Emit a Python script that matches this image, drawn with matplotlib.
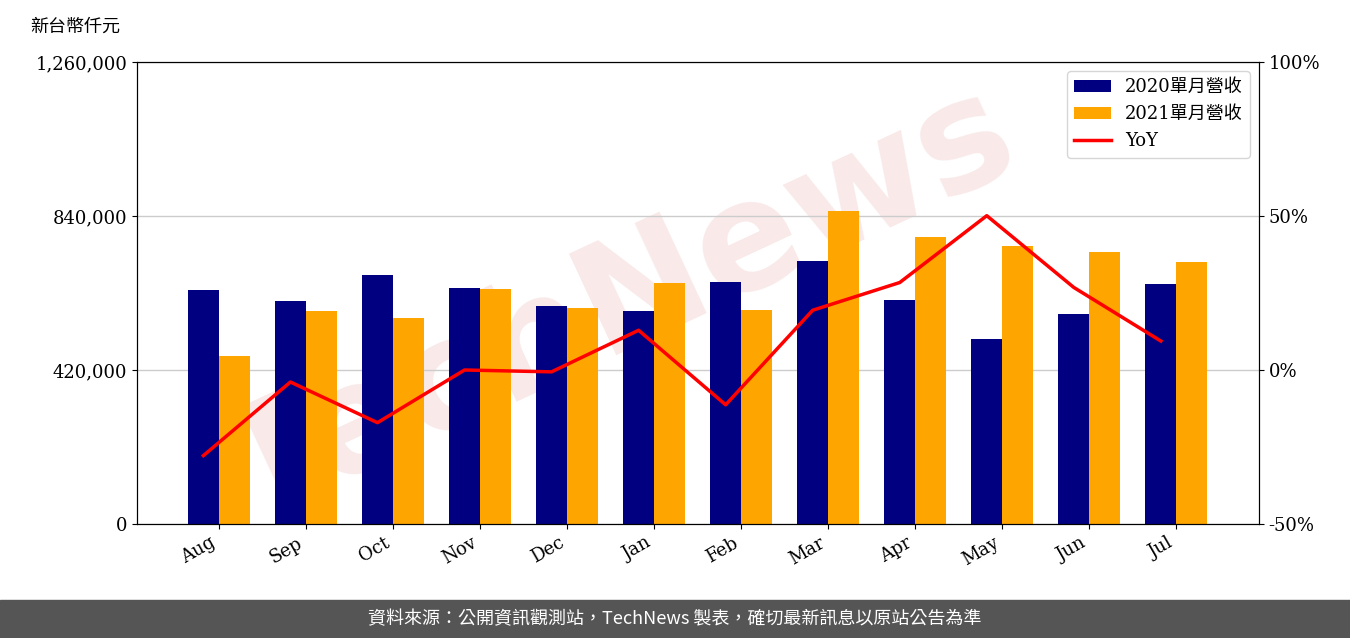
import matplotlib
matplotlib.use("Agg")
import matplotlib.pyplot as plt
import numpy as np

months = ["Aug","Sep","Oct","Nov","Dec","Jan","Feb","Mar","Apr","May","Jun","Jul"]
rev2020 = [638000,608000,679000,644000,594000,581000,660000,717000,611000,504000,573000,654000]
rev2021 = [458000,581000,562000,641000,589000,657000,584000,854000,783000,758000,742000,714000]
yoy = [-27.8,-3.9,-17.1,0.0,-0.6,12.9,-11.3,19.4,28.4,50.1,26.8,9.4]

serif = ["DejaVu Serif", "Noto Sans CJK TC"]
cjk = ["Noto Sans CJK TC", "DejaVu Sans"]

fig = plt.figure(figsize=(13.5, 6.38), dpi=100)
fig.text(0.46, 0.52, "TechNews", fontsize=110, color="#f0c8c8", alpha=0.4, rotation=25,
         ha="center", va="center", fontweight="bold", zorder=-1)
ax = fig.add_axes([137/1350, 1-524/638, (1259-137)/1350, 462/638])
ax.patch.set_visible(False)
x = np.arange(len(months))
w = 0.355
b1 = ax.bar(x - w/2, rev2020, w, color="#000080")
b2 = ax.bar(x + w/2, rev2021, w, color="#FFA500")
ax.set_ylim(0, 1260000)
ax.set_yticks([0, 420000, 840000, 1260000])
ax.set_yticklabels(["0", "420,000", "840,000", "1,260,000"], family=serif, fontsize=13)
ax.set_xlim(-0.94, 11.95)
ax.set_xticks(x)
ax.set_xticklabels(months, rotation=30, ha="right", family=serif, fontsize=13)
ax.grid(axis="y", color="#cccccc", lw=1)
ax.set_axisbelow(True)
ax2 = ax.twinx()
l, = ax2.plot(x - w/2, yoy, color="red", lw=2.5)
ax2.set_ylim(-50, 100)
ax2.set_yticks([-50, 0, 50, 100])
ax2.set_yticklabels(["-50%", "0%", "50%", "100%"], family=serif, fontsize=13)
ax2.legend([b1, b2, l], ["2020單月營收", "2021單月營收", "YoY"], loc="upper right",
           prop={"family": serif, "size": 13})
fig.text(30/1350, 1-27/638, "新台幣仟元", family=cjk, fontsize=13, va="center")
fig.patches.append(plt.Rectangle((0, 0), 1, 38/638, transform=fig.transFigure, color="#555555"))
fig.text(0.5, 19/638, "資料來源：公開資訊觀測站，TechNews 製表，確切最新訊息以原站公告為準",
         family=cjk, fontsize=13, color="white", ha="center", va="center")
fig.savefig("out.png", dpi=100)
